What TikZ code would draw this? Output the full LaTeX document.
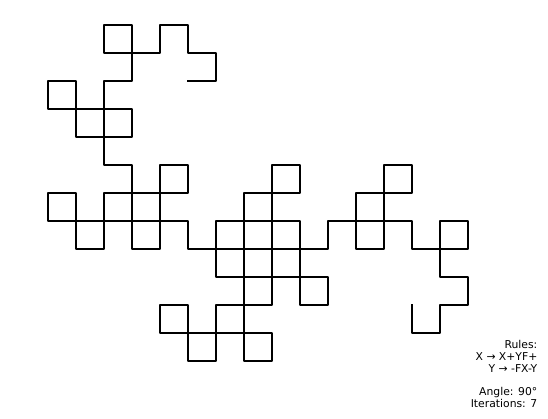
\documentclass[tikz,border=0pt]{standalone}
\usepackage{fontspec}
\setmainfont{DejaVu Sans}
\usetikzlibrary{lindenmayersystems}
\pgfdeclarelindenmayersystem{Dragon curve}{
  \rule{X -> X+YF+}
  \rule{Y -> -FX-Y}
}
\tikzset{
  curve/.style={line width=1.5pt, line join=round, line cap=rect, black},
  info/.style={anchor=base east, inner sep=0pt, font=\fontsize{10.8}{12}\selectfont}
}
\begin{document}
\begin{tikzpicture}[x=1pt,y=1pt]
\useasboundingbox (0,0) rectangle (548,418);
\fill[white] (0,0) rectangle (548,418);
\begin{scope}[shift={(188,337)}]
\draw[curve, lindenmayer system={Dragon curve, axiom=FX, order=7, step=28pt, angle=90}] lindenmayer system;
\end{scope}
\node[info] (r1) at (537.5,69.5) {Rules:};
\node[info] (r2) at (537.5,57.7) {X → X+YF+};
\node[info] (r3) at (537.5,46) {Y → -FX-Y};
\node[info] (r4) at (537.5,22.3) {Angle: 90°};
\node[info] (r5) at (537.5,10.5) {Iterations: 7};
\end{tikzpicture}
\end{document}
